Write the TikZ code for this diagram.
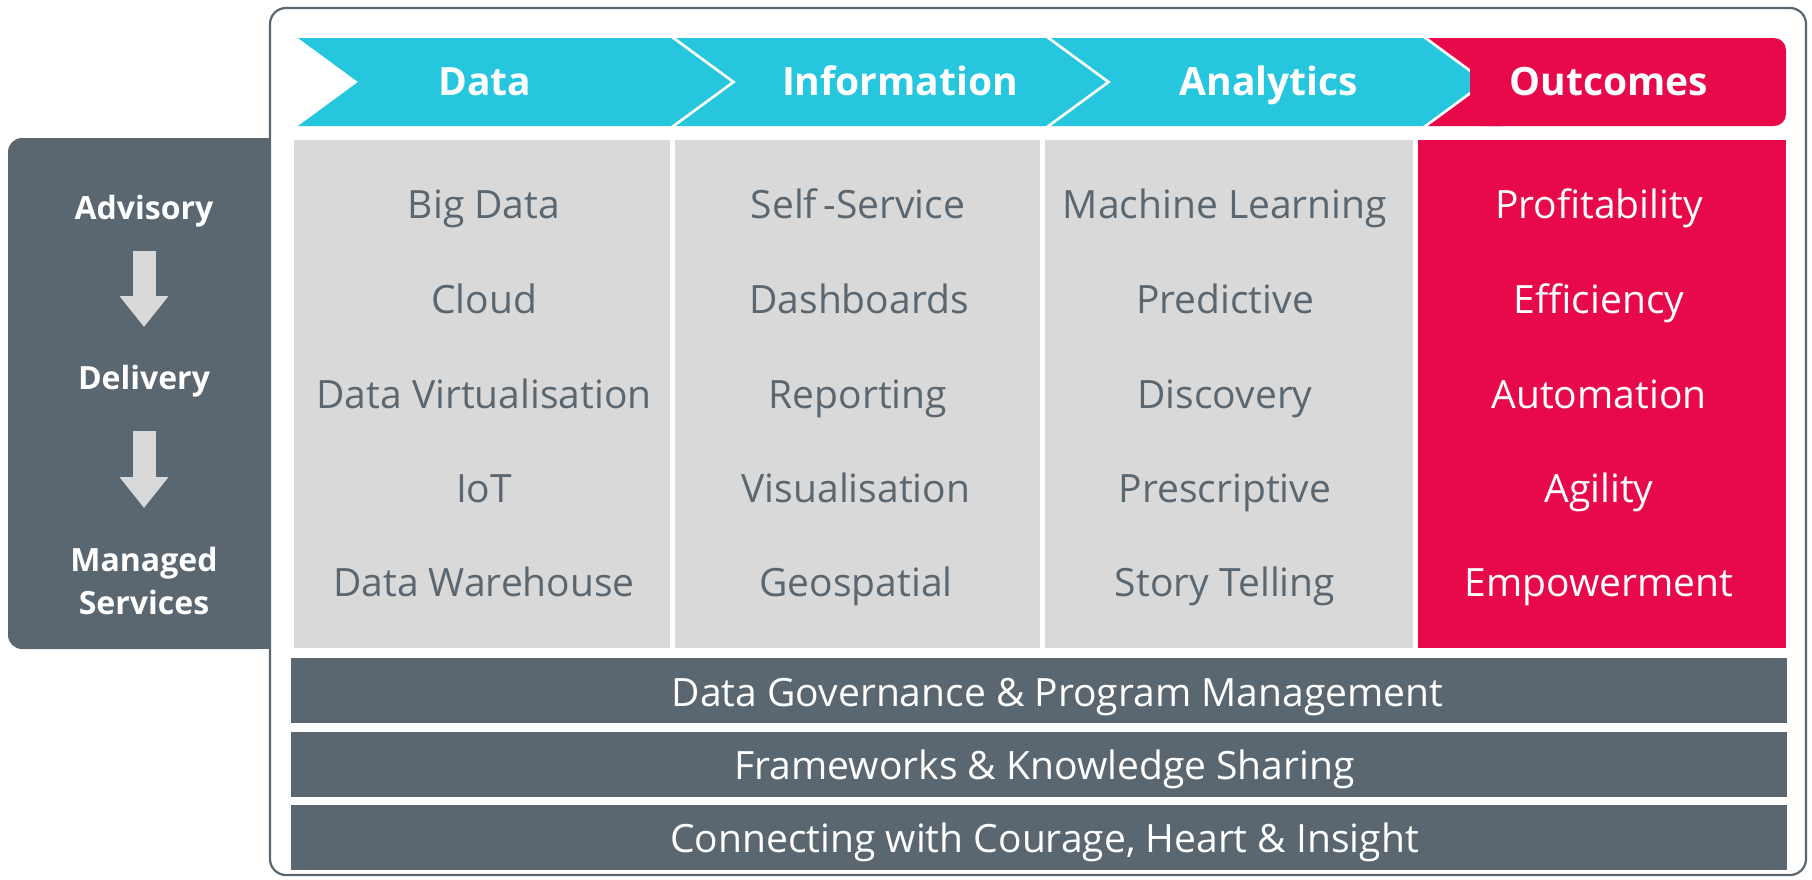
\documentclass[tikz,border=0pt]{standalone}
\usepackage{fontspec}
\setmainfont{Open Sans}
\usetikzlibrary{positioning,arrows.meta}
\definecolor{headcyan}{HTML}{26C6DE}
\definecolor{outred}{HTML}{E8094A}
\definecolor{slate}{HTML}{5A6670}
\definecolor{lightgrey}{HTML}{D9D9D9}

\begin{document}
\begin{tikzpicture}[x=1pt, y=-1pt,
    item/.style = {text=slate, font=\fontsize{39}{47}\selectfont, text height=28pt, text depth=9pt, inner sep=0pt},
    outitem/.style = {item, text=white},
    head/.style = {text=white, font=\fontsize{39}{47}\selectfont\bfseries, text height=28pt, text depth=9pt, inner sep=0pt},
    side/.style = {text=white, font=\fontsize{32}{43}\selectfont\bfseries, align=center, inner sep=0pt},
    bar/.style = {fill=slate, inner sep=0pt, minimum width=1496pt, minimum height=65pt},
    bartext/.style = {item, text=white},
    blockarrow/.style = {draw=lightgrey, line width=23pt, -{Triangle[width=47pt, length=31pt]}}]
        \useasboundingbox (0,0) rectangle (1812,879);

        % outer frame
        \draw[slate, line width=2.2pt, rounded corners=16pt] (270,8) rectangle (1806,875);

        % left panel
        \fill[slate, rounded corners=14pt] (8,138) rectangle (269,649);
        \fill[slate] (230,138) rectangle (269,649);

        % chevrons
        \fill[headcyan] (298,38) -- (671,38) -- (731,82) -- (671,126) -- (298,126) -- (358,82) -- cycle;
        \fill[headcyan] (676,38) -- (1046,38) -- (1106,82) -- (1046,126) -- (676,126) -- (736,82) -- cycle;
        \fill[headcyan] (1051,38) -- (1423,38) -- (1483,82) -- (1423,126) -- (1051,126) -- (1111,82) -- cycle;
        \fill[outred] (1428,38) -- (1500,38) -- (1500,126) -- (1428,126) -- (1488,82) -- cycle;
        \fill[outred, rounded corners=12pt] (1470,38) rectangle (1786,126);

        \node[head] at (485,86) (hdata) {Data};
        \node[head] at (900,86) (hinfo) {Information};
        \node[head] at (1269,86) (hana) {Analytics};
        \node[head] at (1609,86) (hout) {Outcomes};

        % columns
        \fill[lightgrey] (294,140) rectangle (670,648);
        \fill[lightgrey] (675,140) rectangle (1040,648);
        \fill[lightgrey] (1045,140) rectangle (1413,648);
        \fill[outred] (1418,140) rectangle (1786,648);

        \node[item] at (484,209) (d1) {Big Data};
        \node[item] at (484,304) (d2) {Cloud};
        \node[item] at (484,399) (d3) {Data Virtualisation};
        \node[item] at (484,493) (d4) {IoT};
        \node[item] at (484,587) (d5) {Data Warehouse};

        \node[item] at (858,209) (i1) {Self\,-Service};
        \node[item] at (859,304) (i2) {Dashboards};
        \node[item] at (858,399) (i3) {Reporting};
        \node[item] at (856,493) (i4) {Visualisation};
        \node[item] at (856,587) (i5) {Geospatial};

        \node[item] at (1225,209) (a1) {Machine Learning};
        \node[item] at (1225,304) (a2) {Predictive};
        \node[item] at (1225,399) (a3) {Discovery};
        \node[item] at (1225,493) (a4) {Prescriptive};
        \node[item] at (1225,587) (a5) {Story Telling};

        \node[outitem] at (1599,209) (o1) {Profitability};
        \node[outitem] at (1599,304) (o2) {Efficiency};
        \node[outitem] at (1599,399) (o3) {Automation};
        \node[outitem] at (1599,493) (o4) {Agility};
        \node[outitem] at (1599,587) (o5) {Empowerment};

        % bottom bars
        \node[bar] at (1038.5,690.5) (gov) {};
        \node[bar] at (1038.5,764) (frame) {};
        \node[bar] at (1038.5,837) (heart) {};
        \node[bartext] at ([xshift=19pt, yshift=-6pt]gov.center) (govtext) {Data Governance \& Program Management};
        \node[bartext] at ([xshift=6pt, yshift=-6pt]frame.center) (frametext) {Frameworks \& Knowledge Sharing};
        \node[bartext] at ([xshift=6pt, yshift=-6pt]heart.center) (hearttext) {Connecting with Courage, Heart \& Insight};

        % service levels
        \node[side] at (144,211) (adv) {Advisory};
        \node[side] at (144,381) (del) {Delivery};
        \node[side] at (144,581) (man) {Managed\\Services};

        \draw[blockarrow] ([yshift=-40pt]adv.center) -- ([yshift=54pt]del.center);
        \draw[blockarrow] ([yshift=-50pt]del.center) -- ([yshift=73pt]man.center);
    \end{tikzpicture}
\end{document}
